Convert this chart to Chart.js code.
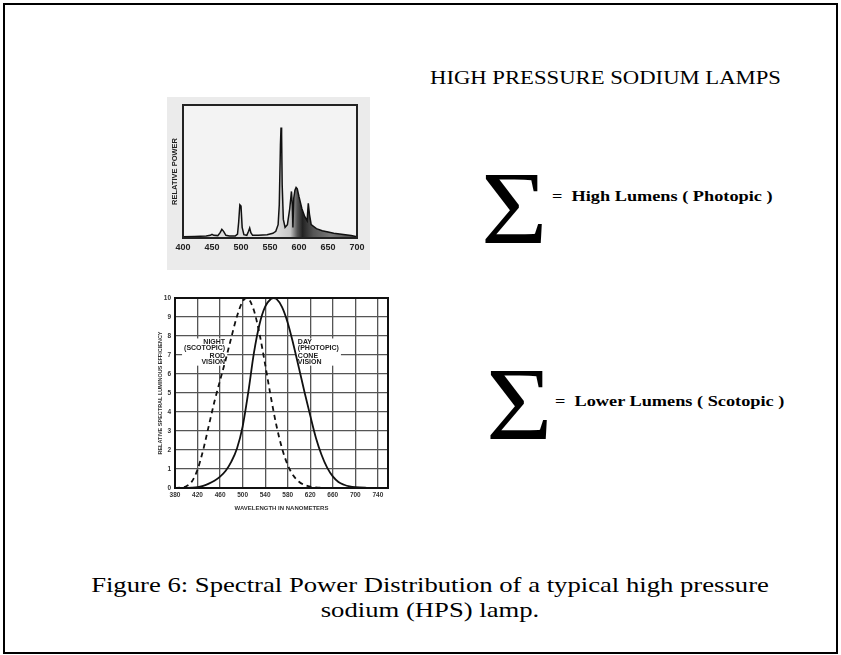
<!DOCTYPE html>
<html>
<head>
<meta charset="utf-8">
<script src="https://cdn.jsdelivr.net/npm/chart.js@4.4.0/dist/chart.umd.min.js"></script>
<style>
  html, body { margin: 0; padding: 0; background: #fff; width: 841px; height: 655px; overflow: hidden; }
  .abs { position: absolute; white-space: nowrap; }
  #frame { position: absolute; left: 3px; top: 3px; width: 831px; height: 647px; border: 2px solid #000; }
  .serif { font-family: "Liberation Serif", "Times New Roman", serif; color: #000; }
  .wide { transform-origin: 0 0; transform: scaleX(1.26); }
  canvas { position: absolute; }
</style>
</head>
<body>
<div id="frame"></div>

<div class="abs serif wide" id="title" style="left:430px; top:69px; font-size:18px; line-height:18px;">HIGH PRESSURE SODIUM LAMPS</div>

<div class="abs serif" style="left:481px; top:156px; font-size:104px; line-height:104px; transform-origin:0 0; transform:scaleX(1.1);">&Sigma;</div>
<div class="abs serif wide" style="left:552px; top:189px; font-size:14.5px; line-height:15px; font-weight:bold;">=&nbsp; High Lumens ( Photopic )</div>

<div class="abs serif" style="left:486px; top:352px; font-size:104px; line-height:104px; transform-origin:0 0; transform:scaleX(1.1);">&Sigma;</div>
<div class="abs serif wide" style="left:555px; top:394px; font-size:14.5px; line-height:15px; font-weight:bold;">=&nbsp; Lower Lumens ( Scotopic )</div>

<div class="abs serif" style="left:0px; top:573px; width:860px; text-align:center; font-size:21px; line-height:25px; white-space:normal; transform-origin:50% 0; transform:scaleX(1.27);">Figure 6: Spectral Power Distribution of a typical high pressure<br>sodium (HPS) lamp.</div>

<canvas id="spd" width="203" height="173" style="left:167px; top:97px; background:#ebebeb;"></canvas>
<canvas id="eff" width="250" height="222" style="left:150px; top:290px;"></canvas>

<script>
// ---------- Data: HPS spectral power distribution (relative, 0..1) ----------
const spectrumNm = [400,420,440,447,450,453,460,464,467,470,474,480,490,494,496,498,500,502,505,510,513,515,517,520,530,545,555,560,564,566,568,569,570,571,573,576,580,584,587,588.5,589.5,591,593,595,597,600,605,610,614,616,618,621,630,640,650,660,670,680,690,700];
const spectrumPower = [0.01,0.012,0.015,0.02,0.028,0.02,0.018,0.04,0.065,0.05,0.02,0.015,0.015,0.03,0.12,0.25,0.24,0.08,0.025,0.02,0.05,0.075,0.04,0.02,0.02,0.025,0.035,0.05,0.1,0.25,0.7,0.83,0.78,0.4,0.14,0.08,0.1,0.22,0.35,0.25,0.08,0.3,0.36,0.38,0.37,0.31,0.22,0.16,0.13,0.26,0.18,0.1,0.07,0.055,0.045,0.035,0.03,0.025,0.018,0.01];
const spectrumTicks = [400,450,500,550,600,650,700];

// ---------- Data: relative spectral luminous efficiency (0..10) ----------
const photopicNm  = [380,400,410,420,430,440,450,460,470,480,490,500,510,520,530,540,550,555,560,570,580,590,600,610,620,630,640,650,660,670,680,690,700,720,740];
const photopicEff = [0,0.04,0.12,0.4,1.16,2.3,3.8,6.0,9.1,13.9,20.8,32.3,50.3,71.0,86.2,95.4,99.5,100,99.5,95.2,87.0,75.7,63.1,50.3,38.1,26.5,17.5,10.7,6.1,3.2,1.7,0.8,0.4,0.1,0].map(v => v / 10);
const scotopicNm  = [380,390,400,410,420,430,440,450,460,470,480,490,500,507,510,520,530,540,550,560,570,580,590,600,610,620,630,640,660,680];
const scotopicEff = [0.06,0.22,0.93,3.48,9.66,19.98,32.81,45.5,56.7,67.6,79.3,90.4,98.2,100,99.7,93.5,81.1,65.0,48.1,32.88,20.76,12.12,6.55,3.32,1.59,0.74,0.33,0.15,0.03,0].map(v => v / 10);
const effTicksX = [380,420,460,500,540,580,620,660,700,740];
const effTicksY = [0,1,2,3,4,5,6,7,8,9,10];
const nightLabel = ['NIGHT','(SCOTOPIC)','ROD','VISION'];
const dayLabel = ['DAY','(PHOTOPIC)','CONE','VISION'];

// ---------- plugins ----------
const plotBg = {
  id: 'plotBg',
  beforeDraw(chart, args, opts) {
    if (!opts.color) return;
    const a = chart.chartArea, c = chart.ctx;
    c.save(); c.fillStyle = opts.color; c.fillRect(a.left, a.top, a.right - a.left, a.bottom - a.top); c.restore();
  }
};
const plotFrame = {
  id: 'plotFrame',
  afterDraw(chart, args, opts) {
    const a = chart.chartArea, c = chart.ctx;
    c.save(); c.strokeStyle = opts.color || '#000'; c.lineWidth = opts.width || 2;
    c.strokeRect(a.left, a.top, a.right - a.left, a.bottom - a.top); c.restore();
  }
};
const visionLabels = {
  id: 'visionLabels',
  beforeDatasetsDraw(chart, args, opts) {
    if (!opts.groups) return;
    const c = chart.ctx, xs = chart.scales.x, ys = chart.scales.y;
    c.save();
    c.font = 'bold 7px "Liberation Sans", Arial, sans-serif';
    c.textBaseline = 'middle';
    opts.groups.forEach(g => {
      const x = xs.getPixelForValue(g.x);
      const widths = g.lines.map(t => c.measureText(t).width);
      const w = Math.max(...widths);
      const yTop = ys.getPixelForValue(g.y[0]) - 4;
      const yBot = ys.getPixelForValue(g.y[g.y.length - 1]) + 4;
      c.fillStyle = '#fff';
      const bx = g.align === 'right' ? x - w - 2 : x - 2;
      c.fillRect(bx, yTop, w + 4, yBot - yTop);
      c.fillStyle = '#222';
      c.textAlign = g.align;
      g.lines.forEach((t, i) => c.fillText(t, x, ys.getPixelForValue(g.y[i])));
    });
    c.restore();
  }
};

// ---------- top chart: spectral power ----------
new Chart(document.getElementById('spd'), {
  type: 'line',
  data: {
    datasets: [{
      data: spectrumNm.map((x, i) => ({ x, y: spectrumPower[i] })),
      borderColor: '#111',
      borderWidth: 1.5,
      pointRadius: 0,
      tension: 0,
      fill: 'origin',
      backgroundColor(ctx) {
        const chart = ctx.chart;
        if (!chart.chartArea) return 'rgba(0,0,0,0)';
        const xs = chart.scales.x;
        const g = chart.ctx.createLinearGradient(xs.getPixelForValue(400), 0, xs.getPixelForValue(700), 0);
        const s = v => (v - 400) / 300;
        g.addColorStop(0, '#d8d8d8');
        g.addColorStop(s(555), '#e2e2e2');
        g.addColorStop(s(585), '#c6c6c6');
        g.addColorStop(s(597), '#555');
        g.addColorStop(s(606), '#222');
        g.addColorStop(s(625), '#555');
        g.addColorStop(s(655), '#7a7a7a');
        g.addColorStop(1, '#444');
        return g;
      }
    }]
  },
  options: {
    responsive: false,
    animation: false,
    events: [],
    layout: { padding: { top: 8, right: 13, left: 0, bottom: 0 } },
    plugins: {
      legend: { display: false }, tooltip: { enabled: false },
      plotBg: { color: '#f3f3f3' }, plotFrame: { color: '#222', width: 2 }
    },
    scales: {
      x: {
        type: 'linear', min: 400, max: 700,
        afterBuildTicks: s => { s.ticks = spectrumTicks.map(v => ({ value: v })); },
        afterFit: s => { s.height = 32; },
        grid: { display: false, drawTicks: false },
        border: { display: false },
        ticks: { padding: 4, maxRotation: 0, autoSkip: false, color: '#222', font: { family: '"Liberation Sans", Arial, sans-serif', size: 9, weight: 'bold' } }
      },
      y: {
        min: 0, max: 1,
        afterFit: s => { s.width = 16; },
        grid: { display: false, drawTicks: false },
        border: { display: false },
        ticks: { display: false },
        title: { display: true, text: 'RELATIVE POWER', color: '#222', padding: { top: 3, bottom: 0 }, font: { family: '"Liberation Sans", Arial, sans-serif', size: 7.5, weight: 'bold' } }
      }
    }
  },
  plugins: [plotBg, plotFrame]
});

// ---------- bottom chart: luminous efficiency ----------
new Chart(document.getElementById('eff'), {
  type: 'line',
  data: {
    datasets: [
      {
        label: 'Night (scotopic) rod vision',
        data: scotopicNm.map((x, i) => ({ x, y: scotopicEff[i] })),
        borderColor: '#111', borderWidth: 1.8, borderDash: [5, 4],
        pointRadius: 0, cubicInterpolationMode: 'monotone', fill: false
      },
      {
        label: 'Day (photopic) cone vision',
        data: photopicNm.map((x, i) => ({ x, y: photopicEff[i] })),
        borderColor: '#111', borderWidth: 1.8,
        pointRadius: 0, cubicInterpolationMode: 'monotone', fill: false
      }
    ]
  },
  options: {
    responsive: false,
    animation: false,
    events: [],
    layout: { padding: { top: 8, right: 12, left: 0, bottom: 0 } },
    plugins: {
      legend: { display: false }, tooltip: { enabled: false },
      plotFrame: { color: '#111', width: 2 },
      visionLabels: {
        groups: [
          { x: 469, align: 'right', y: [7.66, 7.34, 6.97, 6.65], lines: nightLabel },
          { x: 598, align: 'left',  y: [7.66, 7.34, 6.97, 6.65], lines: dayLabel }
        ]
      }
    },
    scales: {
      x: {
        type: 'linear', min: 380, max: 758,
        afterBuildTicks: s => { s.ticks = effTicksX.map(v => ({ value: v })); },
        afterFit: s => { s.height = 24; },
        grid: { color: '#555', lineWidth: 1.3, drawTicks: false },
        border: { display: false },
        ticks: { padding: 3, maxRotation: 0, autoSkip: false, color: '#333', font: { family: '"Liberation Sans", Arial, sans-serif', size: 6.5, weight: 'bold' } },
        title: { display: true, text: 'WAVELENGTH IN NANOMETERS', color: '#333', padding: { top: 1, bottom: 0 }, font: { family: '"Liberation Sans", Arial, sans-serif', size: 6, weight: 'bold' } }
      },
      y: {
        min: 0, max: 10,
        afterBuildTicks: s => { s.ticks = effTicksY.map(v => ({ value: v })); },
        afterFit: s => { s.width = 25; },
        grid: { color: '#555', lineWidth: 1.3, drawTicks: false },
        border: { display: false },
        ticks: { padding: 4, autoSkip: false, color: '#333', font: { family: '"Liberation Sans", Arial, sans-serif', size: 6.5, weight: 'bold' } },
        title: { display: true, text: 'RELATIVE SPECTRAL LUMINOUS EFFICIENCY', color: '#333', padding: { top: 7, bottom: 0 }, font: { family: '"Liberation Sans", Arial, sans-serif', size: 5.5, weight: 'bold' } }
      }
    }
  },
  plugins: [plotFrame, visionLabels]
});
</script>
</body>
</html>
